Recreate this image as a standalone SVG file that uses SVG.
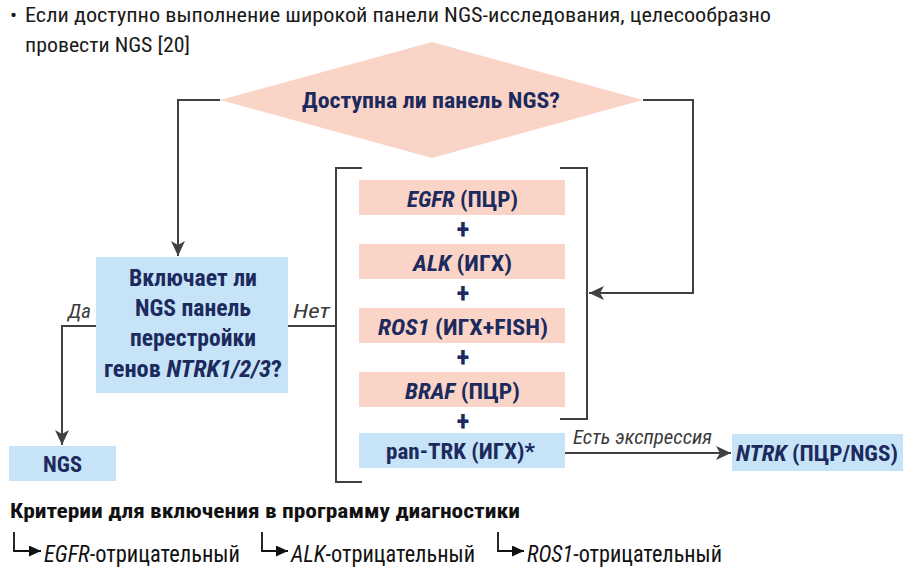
<svg xmlns="http://www.w3.org/2000/svg" width="912" height="572" viewBox="0 0 912 572">
<defs>
<style>
.bg{fill:#ffffff}
.peach{fill:#fad5c7}
.blue{fill:#c6e3f7}
.t{font-family:'Roboto Condensed','Liberation Sans Narrow',Roboto,'Liberation Sans',sans-serif}
.nb{font-weight:bold;fill:#1c2a5e;font-size:22px}
.nbl{font-weight:bold;fill:#1c2a5e;font-size:23px}
.plain{fill:#1a1a1a;font-size:21px}
.lbl{fill:#3c3c3c;font-size:20px;font-style:italic}
.crit{fill:#111111;font-size:21px;font-weight:bold}
.row{fill:#111111;font-size:23px}
.plus{font-weight:bold;fill:#1c2a5e;font-size:27px;text-anchor:middle}
.line{fill:none;stroke:#404040;stroke-width:2}
.thin{fill:none;stroke:#111111;stroke-width:1.8}
</style>
<marker id="arr" markerUnits="userSpaceOnUse" markerWidth="16" markerHeight="14" viewBox="0 0 16 14" refX="15" refY="7" orient="auto">
<path d="M0,0 L15,7 L0,14 L4,7 Z" fill="#404040"/>
</marker>
<marker id="arrS" markerUnits="userSpaceOnUse" markerWidth="13" markerHeight="11" viewBox="0 0 13 11" refX="12" refY="5.5" orient="auto">
<path d="M0,0 L12,5.5 L0,11 Z" fill="#111111"/>
</marker>
</defs>
<rect class="bg" x="0" y="0" width="912" height="572"/>

<g id="intro" class="t">
<text class="plain" x="10" y="22">•</text>
<text class="plain" x="25" y="22" textLength="746" lengthAdjust="spacingAndGlyphs">Если доступно выполнение широкой панели NGS-исследования, целесообразно</text>
<text class="plain" x="25" y="52" textLength="165" lengthAdjust="spacingAndGlyphs">провести NGS [20]</text>
</g>

<g id="connectors">
<polyline class="line" points="220,100 178,100 178,256" marker-end="url(#arr)"/>
<polyline class="line" points="643,100 693,100 693,293 589,293" marker-end="url(#arr)"/>
<line class="line" x1="288" y1="326" x2="336" y2="326"/>
<polyline class="line" points="96,326 62,326 62,445" marker-end="url(#arr)"/>
<line class="line" x1="565" y1="453" x2="731" y2="453" marker-end="url(#arr)"/>
<polyline class="line" points="362,168 336,168 336,482 362,482"/>
<polyline class="line" points="560,168 587,168 587,419 560,419"/>
</g>

<g id="labels" class="t">
<text class="lbl" x="68" y="318" textLength="23" lengthAdjust="spacingAndGlyphs">Да</text>
<text class="lbl" x="293" y="318" textLength="37" lengthAdjust="spacingAndGlyphs">Нет</text>
<text class="lbl" x="573" y="444" textLength="139" lengthAdjust="spacingAndGlyphs">Есть экспрессия</text>
</g>

<g id="decision-ngs">
<polygon class="peach" points="220,100 432,42 643,100 432,158"/>
<text class="t nb" x="302" y="108" textLength="258" lengthAdjust="spacingAndGlyphs">Доступна ли панель NGS?</text>
</g>

<g id="decision-ntrk" class="t">
<rect class="blue" x="96" y="257" width="192" height="136"/>
<text class="nbl" x="129" y="286" textLength="128" lengthAdjust="spacingAndGlyphs">Включает ли</text>
<text class="nbl" x="135" y="316" textLength="116" lengthAdjust="spacingAndGlyphs">NGS панель</text>
<text class="nbl" x="130" y="346" textLength="126" lengthAdjust="spacingAndGlyphs">перестройки</text>
<text class="nbl" x="104" y="377" textLength="178" lengthAdjust="spacingAndGlyphs">генов <tspan font-style="italic">NTRK1/2/3</tspan>?</text>
</g>

<g id="ngs" class="t">
<rect class="blue" x="9" y="446" width="107" height="35"/>
<text class="nb" x="43" y="472" textLength="39" lengthAdjust="spacingAndGlyphs">NGS</text>
</g>

<g id="egfr" class="t">
<rect class="peach" x="359" y="180" width="206" height="35"/>
<text class="nb" x="407" y="207" textLength="111" lengthAdjust="spacingAndGlyphs"><tspan font-style="italic">EGFR</tspan> (ПЦР)</text>
</g>
<g id="plus1" class="t"><text class="plus" x="463" y="239">+</text></g>
<g id="alk" class="t">
<rect class="peach" x="359" y="244" width="206" height="35"/>
<text class="nb" x="413" y="271" textLength="99" lengthAdjust="spacingAndGlyphs"><tspan font-style="italic">ALK</tspan> (ИГХ)</text>
</g>
<g id="plus2" class="t"><text class="plus" x="463" y="303">+</text></g>
<g id="ros1" class="t">
<rect class="peach" x="359" y="308" width="206" height="35"/>
<text class="nb" x="378" y="335" textLength="170" lengthAdjust="spacingAndGlyphs"><tspan font-style="italic">ROS1</tspan> (ИГХ+FISH)</text>
</g>
<g id="plus3" class="t"><text class="plus" x="463" y="367">+</text></g>
<g id="braf" class="t">
<rect class="peach" x="359" y="372" width="206" height="35"/>
<text class="nb" x="405" y="399" textLength="115" lengthAdjust="spacingAndGlyphs"><tspan font-style="italic">BRAF</tspan> (ПЦР)</text>
</g>
<g id="plus4" class="t"><text class="plus" x="463" y="431">+</text></g>
<g id="pantrk" class="t">
<rect class="blue" x="359" y="433" width="206" height="35"/>
<text class="nb" x="386" y="459" textLength="149" lengthAdjust="spacingAndGlyphs">pan-TRK (ИГХ)*</text>
</g>

<g id="ntrk" class="t">
<rect class="blue" x="732" y="434" width="171" height="37"/>
<text class="nb" x="736" y="461" textLength="162" lengthAdjust="spacingAndGlyphs"><tspan font-style="italic">NTRK</tspan> (ПЦР/NGS)</text>
</g>

<g id="criteria" class="t">
<text class="crit" x="10" y="518" textLength="510" lengthAdjust="spacingAndGlyphs">Критерии для включения в программу диагностики</text>
<polyline class="thin" points="14,532 14,551 41,551" marker-end="url(#arrS)"/>
<text class="row" x="44" y="562" textLength="196" lengthAdjust="spacingAndGlyphs"><tspan font-style="italic">EGFR</tspan>-отрицательный</text>
<polyline class="thin" points="262,532 262,551 288,551" marker-end="url(#arrS)"/>
<text class="row" x="291" y="562" textLength="184" lengthAdjust="spacingAndGlyphs"><tspan font-style="italic">ALK</tspan>-отрицательный</text>
<polyline class="thin" points="498,532 498,551 524,551" marker-end="url(#arrS)"/>
<text class="row" x="527" y="562" textLength="195" lengthAdjust="spacingAndGlyphs"><tspan font-style="italic">ROS1</tspan>-отрицательный</text>
</g>
</svg>
